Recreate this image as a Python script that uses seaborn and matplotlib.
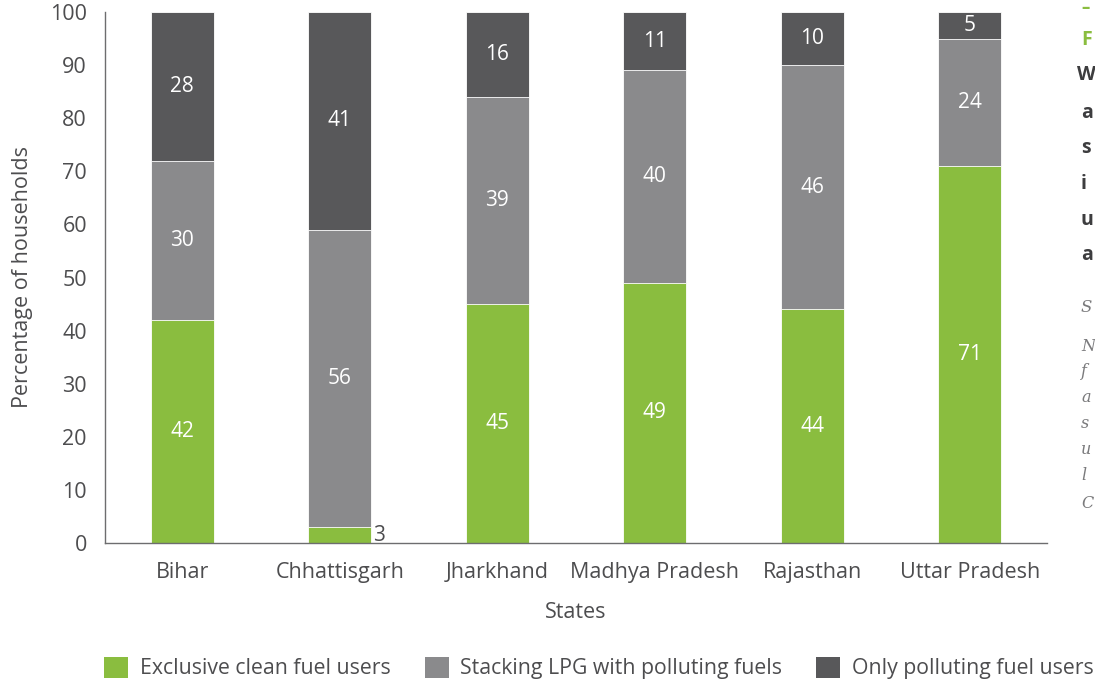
import matplotlib
matplotlib.use("Agg")
import matplotlib.pyplot as plt
import seaborn as sns
import pandas as pd
import numpy as np
from matplotlib.patches import Patch

states = ["Bihar", "Chhattisgarh", "Jharkhand", "Madhya Pradesh", "Rajasthan", "Uttar Pradesh"]
clean = [42, 3, 45, 49, 44, 71]
stacking = [30, 56, 39, 40, 46, 24]
polluting = [28, 41, 16, 11, 10, 5]
series_names = ["Exclusive clean fuel users", "Stacking LPG with polluting fuels", "Only polluting fuel users"]

GREEN = "#8abd3f"
MID = "#8a8a8c"
DARK = "#58585a"
TXT = "#4d4d4f"

sns.set_theme(style="white")
plt.rcParams["font.family"] = ["Open Sans", "DejaVu Sans"]

df = pd.DataFrame({"state": states, "clean": clean, "stacking": stacking, "polluting": polluting})
df["c1"] = df["clean"]
df["c2"] = df["clean"] + df["stacking"]
df["c3"] = df["c2"] + df["polluting"]

fig = plt.figure(figsize=(10.95, 6.84), dpi=100)
ax = fig.add_axes([105 / 1095, 1 - 543 / 684, (1047 - 105) / 1095, (543 - 12) / 684])

for col, color in [("c3", DARK), ("c2", MID), ("c1", GREEN)]:
    sns.barplot(data=df, x="state", y=col, color=color, width=0.4, ax=ax,
                edgecolor="white", linewidth=0.6, saturation=1, errorbar=None)

ax.set_ylim(0, 100)
ax.set_xlim(-0.49, len(states) - 0.51)
ax.set_yticks(range(0, 101, 10))
ax.tick_params(axis="both", labelsize=15.5, colors=TXT, length=0)
ax.tick_params(axis="x", pad=14)
ax.tick_params(axis="y", pad=13)
ax.set_xlabel("States", fontsize=15.5, color=TXT, labelpad=13)
ax.set_ylabel("Percentage of households", fontsize=15.5, color=TXT, labelpad=12)
for s in ["top", "right"]:
    ax.spines[s].set_visible(False)
for s in ["left", "bottom"]:
    ax.spines[s].set_color("#6d6d6f")
    ax.spines[s].set_linewidth(1.0)

for i in range(len(states)):
    segs = [(0, clean[i]), (clean[i], stacking[i]), (clean[i] + stacking[i], polluting[i])]
    for base, v in segs:
        if v >= 5:
            ax.text(i, base + v / 2, str(v), ha="center", va="center", color="white", fontsize=15)
        else:
            ax.text(i + 0.21, base + v / 2, str(v), ha="left", va="center", color=TXT, fontsize=15)

handles = [Patch(facecolor=c, edgecolor="none") for c in (GREEN, MID, DARK)]
leg = fig.legend(handles, series_names, loc="center left", bbox_to_anchor=(85 / 1095, 1 - 668 / 684),
                 ncol=3, frameon=False, fontsize=15.3, handlelength=1.13, handleheight=1.13,
                 columnspacing=1.6, handletextpad=0.55)
for t in leg.get_texts():
    t.set_color(TXT)

# side panel at the right edge (only the first letters are visible in the reference)
fx = 1081 / 1095
fig.text(fx, 1 - 8 / 684, "–", color=GREEN, fontsize=12, fontweight="bold", va="center")
fig.text(fx, 1 - 40 / 684, "F", color=GREEN, fontsize=14, fontweight="bold", va="center")
for y, w in [(75, "W"), (113, "a"), (148, "s"), (184, "i"), (220, "u"), (255, "a")]:
    x = 1077 / 1095 if w == "W" else fx
    fig.text(x, 1 - y / 684, w, color="#3d3d3f", fontsize=14, fontweight="bold", va="center")
fig.text(fx, 1 - 307 / 684, "S", color="#7a7a7c", fontsize=12, style="italic",
         family="DejaVu Serif", va="center")
for y, w in [(346, "N"), (372, "f"), (398, "a"), (424, "s"), (450, "u"), (476, "l"), (503, "C")]:
    fig.text(fx, 1 - y / 684, w, color="#7a7a7c", fontsize=11.5, style="italic",
             family="DejaVu Serif", va="center")

fig.savefig("out.png", dpi=100)
